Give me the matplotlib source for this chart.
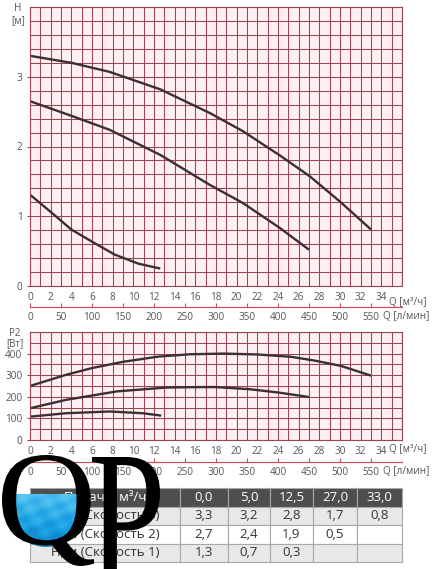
import numpy as np
import matplotlib
matplotlib.use("Agg")
import matplotlib.pyplot as plt
from matplotlib.patches import Ellipse, PathPatch
from matplotlib.textpath import TextPath
from matplotlib.font_manager import FontProperties
from matplotlib.transforms import Affine2D
from matplotlib.colors import LinearSegmentedColormap

plt.rcParams['font.family'] = ['Open Sans', 'DejaVu Sans']

# H(Q) curves, Q in m3/h, H in m
q_h3 = [0, 4.0, 7.7, 12.6, 17.4, 20.6, 24.2, 27.1, 30.0, 33.0]
h_3 = [3.30, 3.20, 3.07, 2.82, 2.48, 2.22, 1.87, 1.57, 1.21, 0.81]
q_h2 = [0, 4.0, 7.7, 12.6, 17.4, 20.6, 24.2, 27.0]
h_2 = [2.65, 2.44, 2.24, 1.88, 1.45, 1.19, 0.83, 0.52]
q_h1 = [0, 2.1, 4.0, 6.3, 8.2, 10.5, 12.6]
h_1 = [1.31, 1.05, 0.81, 0.61, 0.45, 0.32, 0.25]

# P2(Q) curves, W
q_p3 = [0, 3.5, 6.0, 9.0, 12.4, 15.5, 18.8, 22.0, 25.3, 27.5, 30.1, 33.0]
p_3 = [250, 302, 333, 362, 386, 397, 400, 396, 385, 368, 343, 298]
q_p2 = [0, 3.5, 8.4, 13.2, 16.4, 18.0, 21.3, 24.0, 27.0]
p_2 = [147, 186, 225, 243, 245, 245, 235, 220, 199]
q_p1 = [0, 3.5, 7.7, 10.9, 12.7]
p_1 = [108, 124, 132, 124, 113]

# table
tbl_header = ['Подача, м³/ч', '0,0', '5,0', '12,5', '27,0', '33,0']
tbl_rows = [
    ['Н, м (Скорость 3)', '3,3', '3,2', '2,8', '1,7', '0,8'],
    ['Н, м (Скорость 2)', '2,7', '2,4', '1,9', '0,5', ''],
    ['Н, м (Скорость 1)', '1,3', '0,7', '0,3', '', ''],
]

W, H = 433, 569
grid_c = '#9a4652'
face_c = '#fdeff2'
txt_c = '#555555'
red_c = '#c8505a'
curve_c = '#3b2f33'
fs = 7.2


def px_box(l, t, r, b):
    return [l / W, 1 - b / H, (r - l) / W, (b - t) / H]


def to_lpm(q):
    return np.asarray(q) * 1000.0 / 60.0


def to_m3h(l):
    return np.asarray(l) * 60.0 / 1000.0


fig = plt.figure(figsize=(W / 100, H / 100), dpi=100)


def style(ax, ymax, ymajor, yminor, sec_loc, lab_y):
    ax.set_facecolor(face_c)
    ax.set_xlim(0, 36)
    ax.set_ylim(0, ymax)
    ax.set_xticks(np.arange(0, 35, 2))
    ax.set_xticks(np.arange(0, 37, 1), minor=True)
    ax.set_yticks(np.arange(0, ymax, ymajor))
    ax.set_yticks(np.arange(0, ymax + yminor / 2, yminor), minor=True)
    ax.grid(which='both', color=grid_c, lw=0.75)
    ax.set_axisbelow(True)
    for s in ax.spines.values():
        s.set_color(grid_c)
        s.set_linewidth(0.8)
    ax.tick_params(axis='x', which='both', length=0, pad=4,
                   labelsize=fs, labelcolor=txt_c)
    ax.tick_params(axis='y', which='major', length=2.5, color=grid_c,
                   pad=3, labelsize=fs, labelcolor=txt_c)
    ax.tick_params(axis='y', which='minor', length=0)
    ax.text(34.75, -0.04, 'Q [м³/ч]', transform=ax.get_xaxis_transform(),
            ha='left', va='top', fontsize=fs, color=txt_c)
    sec = ax.secondary_xaxis(sec_loc, functions=(to_lpm, to_m3h))
    sec.set_xticks(np.arange(0, 551, 50))
    sec.spines['bottom'].set_color(red_c)
    sec.spines['bottom'].set_linewidth(0.9)
    sec.tick_params(direction='in', length=3, color=red_c, pad=4,
                    labelsize=fs, labelcolor=txt_c)
    ax.text(34.2, lab_y, 'Q [л/мин]', transform=ax.get_xaxis_transform(),
            ha='left', va='center', fontsize=fs, color=txt_c)


ax1 = fig.add_axes(px_box(30, 7, 402, 286))
style(ax1, 4, 1, 0.2, -0.075, -0.111)
for q, h in [(q_h3, h_3), (q_h2, h_2), (q_h1, h_1)]:
    ax1.plot(q, h, color=curve_c, lw=1.7, solid_capstyle='butt')

ax2 = fig.add_axes(px_box(30, 332, 402, 440))
style(ax2, 500, 100, 50, -0.2, -0.295)
for q, p in [(q_p3, p_3), (q_p2, p_2), (q_p1, p_1)]:
    ax2.plot(q, p, color=curve_c, lw=1.7, solid_capstyle='butt')

fig.text(18 / W, 1 - 3 / H, 'H\n[м]', ha='center', va='top',
         fontsize=fs, color=txt_c, linespacing=1.15)
fig.text(15 / W, 1 - 328 / H, 'P2\n[Вт]', ha='center', va='top',
         fontsize=fs - 0.3, color=txt_c, linespacing=0.95)

# table
axt = fig.add_axes(px_box(30, 488, 402, 562))
axt.axis('off')
tb = axt.table(cellText=tbl_rows, colLabels=tbl_header, bbox=[0, 0, 1, 1],
               colWidths=[150, 48, 42, 43, 44, 45], cellLoc='center')
tb.auto_set_font_size(False)
for (r, c), cell in tb.get_celld().items():
    cell.set_edgecolor('#a8a8a8')
    cell.set_linewidth(0.8)
    cell.get_text().set_fontsize(9.5)
    if r == 0:
        cell.set_facecolor('#4e4e4e')
        cell.get_text().set_color('white')
    else:
        cell.set_facecolor('#e8e8e8' if r % 2 == 1 else 'white')
        cell.get_text().set_color('#333333')

# QP logo on top
axl = fig.add_axes([0, 0, 1, 1])
axl.set_xlim(0, W)
axl.set_ylim(H, 0)
axl.axis('off')
axl.patch.set_alpha(0)

water = LinearSegmentedColormap.from_list('water', ['#5cc8f2', '#1aa0e4', '#0b6fb8'])
clip = Ellipse((46, 501), 80, 92, transform=axl.transData)
xx, yy = np.meshgrid(np.linspace(0, 1, 80), np.linspace(0, 1, 60))
tex = yy * 0.7 + 0.15 * np.sin(xx * 19 + yy * 7) * np.cos(yy * 17 - xx * 5)
im = axl.imshow(tex, extent=[4, 88, 550, 494], cmap=water,
                vmin=-0.1, vmax=0.9, aspect='auto', zorder=2)
im.set_clip_path(clip)

fp = FontProperties(family='Liberation Serif')


def glyph(ch, x0, x1, top, bottom):
    tp = TextPath((0, 0), ch, size=1, prop=fp)
    ext = tp.get_extents()
    sx = (x1 - x0) / ext.width
    sy = (bottom - top) / ext.height
    tr = Affine2D().translate(-ext.x0, -ext.y1).scale(sx, -sy).translate(x0, top)
    axl.add_patch(PathPatch(tr.transform_path(tp), color='black', lw=0, zorder=3))


glyph('Q', 2, 94, 455, 566)
glyph('P', 92, 160, 457, 578)

fig.savefig('out.png', dpi=100)
